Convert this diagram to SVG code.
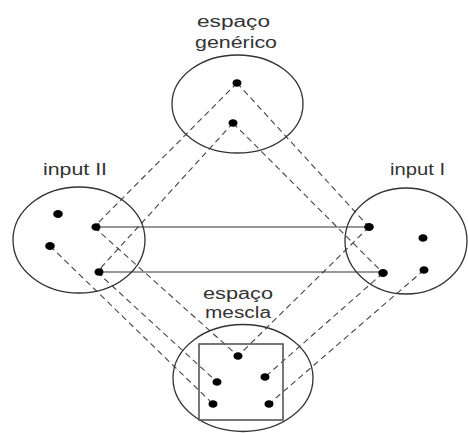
<svg xmlns="http://www.w3.org/2000/svg" width="468" height="433" viewBox="0 0 468 433">
<defs>
<style>
.sp{fill:none;stroke:#333;stroke-width:1.3}
.box{fill:none;stroke:#555;stroke-width:1.6}
.dot{fill:#000}
.dash{fill:none;stroke:#444;stroke-width:1.1;stroke-dasharray:6 4}
.solid{fill:none;stroke:#333;stroke-width:1.1}
.lbl{font-family:"Liberation Sans",Arial,sans-serif;font-size:16px;fill:#333;text-anchor:start}
</style>
<marker id="ahL" viewBox="0 0 10 10" refX="4" refY="5" markerWidth="9" markerHeight="8" markerUnits="userSpaceOnUse" orient="auto-start-reverse">
<path d="M0,0 L10,5 L0,10 z" fill="#000"/>
</marker>
</defs>
<rect width="468" height="433" fill="#fff"/>
<g id="connectors">
<line class="dash" x1="237" y1="83" x2="94" y2="227"/>
<line class="dash" x1="233" y1="123" x2="97" y2="272"/>
<line class="dash" x1="237" y1="83" x2="369" y2="227"/>
<line class="dash" x1="233" y1="123" x2="383" y2="273"/>
<line class="dash" x1="94" y1="227" x2="238" y2="356"/>
<line class="dash" x1="97" y1="272" x2="217" y2="382"/>
<line class="dash" x1="50" y1="246" x2="213" y2="404"/>
<line class="dash" x1="369" y1="227" x2="238" y2="356"/>
<line class="dash" x1="383" y1="273" x2="265" y2="377"/>
<line class="dash" x1="424" y1="270" x2="269" y2="404"/>
<line class="solid" x1="96" y1="227" x2="369" y2="227" marker-start="url(#ahL)"/>
<line class="solid" x1="99" y1="272" x2="383" y2="272" marker-start="url(#ahL)"/>
</g>
<g id="espaco-generico">
<ellipse class="sp" cx="237.5" cy="104" rx="65.5" ry="49"/>
<ellipse class="dot" cx="237" cy="83" rx="4.5" ry="3.8"/>
<ellipse class="dot" cx="233" cy="123" rx="4.5" ry="3.8"/>
<text class="lbl" x="197" y="27" textLength="73" lengthAdjust="spacingAndGlyphs">espaço</text>
<text class="lbl" x="195" y="48" textLength="82" lengthAdjust="spacingAndGlyphs">genérico</text>
</g>
<g id="input-II">
<ellipse class="sp" cx="79" cy="240" rx="66" ry="53"/>
<ellipse class="dot" cx="58" cy="214" rx="4.8" ry="4"/>
<ellipse class="dot" cx="50" cy="246" rx="4.8" ry="4"/>
<ellipse class="dot" cx="96" cy="227" rx="4.5" ry="3.8"/>
<ellipse class="dot" cx="99" cy="272" rx="4.5" ry="3.8"/>
<text class="lbl" x="43" y="175" textLength="64" lengthAdjust="spacingAndGlyphs">input II</text>
</g>
<g id="input-I">
<ellipse class="sp" cx="406" cy="241" rx="61" ry="53"/>
<ellipse class="dot" cx="369" cy="227" rx="4.8" ry="4"/>
<ellipse class="dot" cx="383" cy="273" rx="4.8" ry="4"/>
<ellipse class="dot" cx="423" cy="238" rx="4.5" ry="3.8"/>
<ellipse class="dot" cx="424" cy="270" rx="4.5" ry="3.8"/>
<text class="lbl" x="390" y="175" textLength="55" lengthAdjust="spacingAndGlyphs">input I</text>
</g>
<g id="espaco-mescla">
<ellipse class="sp" cx="243" cy="378" rx="70" ry="53.5"/>
<rect class="box" x="199" y="344" width="84" height="76"/>
<ellipse class="dot" cx="238" cy="356" rx="4.5" ry="3.8"/>
<ellipse class="dot" cx="217" cy="382" rx="4.5" ry="3.8"/>
<ellipse class="dot" cx="265" cy="377" rx="4.5" ry="3.8"/>
<ellipse class="dot" cx="213" cy="404" rx="4.5" ry="3.8"/>
<ellipse class="dot" cx="269" cy="404" rx="4.5" ry="3.8"/>
<text class="lbl" x="203" y="299" textLength="70" lengthAdjust="spacingAndGlyphs">espaço</text>
<text class="lbl" x="205" y="318" textLength="66" lengthAdjust="spacingAndGlyphs">mescla</text>
</g>
</svg>
